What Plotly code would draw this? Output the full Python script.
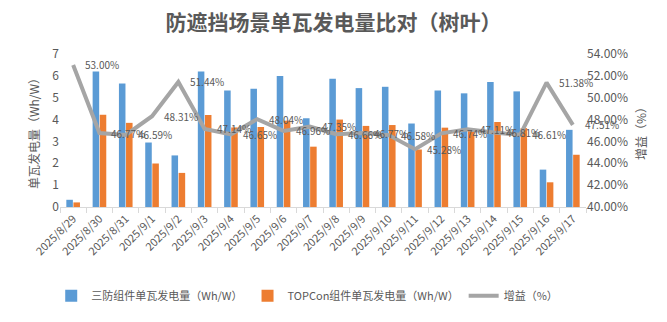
import plotly.graph_objects as go

# 日期
dates = ["2025/8/29", "2025/8/30", "2025/8/31", "2025/9/1", "2025/9/2", "2025/9/3",
         "2025/9/4", "2025/9/5", "2025/9/6", "2025/9/7", "2025/9/8", "2025/9/9",
         "2025/9/10", "2025/9/11", "2025/9/12", "2025/9/13", "2025/9/14", "2025/9/15",
         "2025/9/16", "2025/9/17"]

# 三防组件单瓦发电量（Wh/W）
sanfang = [0.33, 6.20, 5.65, 2.95, 2.36, 6.20, 5.33, 5.41, 5.99, 4.06,
           5.87, 5.44, 5.50, 3.82, 5.33, 5.20, 5.72, 5.29, 1.71, 3.53]

# TOPCon组件单瓦发电量（Wh/W）
topcon = [0.21, 4.22, 3.85, 1.99, 1.56, 4.21, 3.64, 3.66, 3.95, 2.76,
          4.00, 3.71, 3.75, 2.63, 3.63, 3.54, 3.89, 3.61, 1.13, 2.39]

# 增益（%）
gain = [53.00, 46.77, 46.59, 48.31, 51.44, 47.14, 46.65, 48.04, 46.96, 47.35,
        46.66, 46.77, 46.58, 45.28, 46.74, 47.11, 46.81, 46.61, 51.38, 47.51]

FONT = "Noto Sans CJK SC"
GREY_TXT = "#595959"

fig = go.Figure()

fig.add_trace(go.Bar(
    x=dates, y=sanfang, name="三防组件单瓦发电量（Wh/W）",
    marker=dict(color="#5B9BD5", line=dict(width=0)),
))
fig.add_trace(go.Bar(
    x=dates, y=topcon, name="TOPCon组件单瓦发电量（Wh/W）",
    marker=dict(color="#ED7D31", line=dict(width=0)),
))
fig.add_trace(go.Scatter(
    x=dates, y=gain, name="增益（%）", yaxis="y2", mode="lines",
    line=dict(color="#A5A5A5", width=4),
))

# 增益数据标签（位于数据点右侧）
annotations = []
for d, g in zip(dates, gain):
    annotations.append(dict(
        x=d, y=g, xref="x", yref="y2", text=f"{g:.2f}%",
        showarrow=False, xanchor="left", yanchor="middle", xshift=10,
        font=dict(family=FONT, size=10, color=GREY_TXT),
    ))

fig.update_layout(
    width=667, height=322,
    margin=dict(l=60, r=81, t=54, b=99),
    paper_bgcolor="white", plot_bgcolor="white",
    font=dict(family=FONT, color=GREY_TXT),
    title=dict(
        text="<b>防遮挡场景单瓦发电量比对（树叶）</b>",
        x=0.5, xanchor="center", y=1 - 23 / 322, yanchor="middle",
        font=dict(family=FONT, size=21, color=GREY_TXT),
    ),
    barmode="group", bargap=0.46, bargroupgap=0.08,
    showlegend=True,
    legend=dict(
        orientation="h", x=0.47, xanchor="center", y=-0.58, yanchor="middle",
        font=dict(family=FONT, size=11, color=GREY_TXT),
        itemwidth=30, tracegroupgap=0,
    ),
    xaxis=dict(
        type="category", range=[-0.5, len(dates) - 0.5], autorange=False,
        tickangle=-45, tickson="boundaries",
        ticks="outside", ticklen=5, tickcolor="#D9D9D9",
        showline=True, linecolor="#D9D9D9", linewidth=1,
        showgrid=False, tickfont=dict(family=FONT, size=11, color=GREY_TXT),
    ),
    yaxis=dict(
        range=[0, 7], dtick=1, showgrid=False, zeroline=False, showline=False,
        ticks="", tickfont=dict(family=FONT, size=12, color=GREY_TXT),
        title=dict(text="单瓦发电量（Wh/W）", standoff=10,
                   font=dict(family=FONT, size=12, color=GREY_TXT)),
    ),
    yaxis2=dict(
        overlaying="y", side="right", range=[40, 54], dtick=2,
        tickformat=".2f", ticksuffix="%", showgrid=False, zeroline=False,
        showline=False, ticks="",
        tickfont=dict(family=FONT, size=12, color=GREY_TXT),
        title=dict(text="增益（%）", standoff=10,
                   font=dict(family=FONT, size=12, color=GREY_TXT)),
    ),
    annotations=annotations,
)

fig.write_html("out.html")
